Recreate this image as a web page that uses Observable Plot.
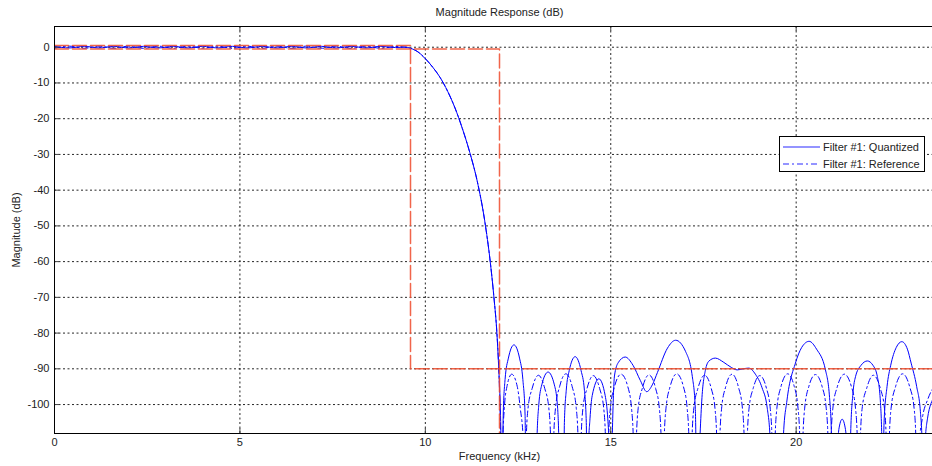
<!DOCTYPE html>
<html><head><meta charset="utf-8">
<script src="https://cdn.jsdelivr.net/npm/d3@7"></script>
<script src="https://cdn.jsdelivr.net/npm/@observablehq/plot@0.6"></script>
<style>
html,body{margin:0;padding:0;background:#fff;overflow:hidden}
#wrap{position:relative;width:950px;height:466px;overflow:hidden}
#chart svg{max-width:none !important}
#legend{position:absolute;left:779px;top:136px;width:144px;height:34px;border:1px solid #000;background:#fff;font:11px "Liberation Sans",Arial,sans-serif;color:#222}
.row{position:absolute;left:0;display:flex;align-items:center;height:16px;white-space:nowrap}
.row svg{margin-left:3px;margin-right:3px}
</style></head><body>
<div id="wrap"><div id="chart"></div>
<div id="legend">
 <div class="row" style="top:2px"><svg width="37" height="16"><line x1="0" x2="37" y1="8" y2="8" stroke="#2a2aff" stroke-width="1.2"/></svg>Filter #1: Quantized</div>
 <div class="row" style="top:19px"><svg width="37" height="16"><line x1="0" x2="37" y1="8" y2="8" stroke="#2a2aff" stroke-width="1.2" stroke-dasharray="6,3,2,3"/></svg>Filter #1: Reference</div>
</div></div>
<script>
// ---- ticks
const xTicks = [0, 5, 10, 15, 20];
const yTicks = [0, -10, -20, -30, -40, -50, -60, -70, -80, -90, -100];
const xDomain = [0, 24];
const yDomain = [-108.1, 5.8];

// ---- mask (frequency kHz, dB)
const maskUpper = [[0, 0.5], [9.6, 0.5], [9.6, -90], [24, -90]];
const maskLower = [[0, -0.5], [12, -0.5], [12, -200]];

// ---- passband ripple
const quantizedPass = [[0,0.25],[0.4,-0.2],[0.8,0.25],[1.2,-0.2],[1.6,0.25],[2.0,-0.2],[2.4,0.25],[2.8,-0.2],[3.2,0.25],[3.6,-0.2],[4.0,0.25],[4.4,-0.2],[4.8,0.25],[5.2,-0.2],[5.6,0.25],[6.0,-0.2],[6.4,0.25],[6.8,-0.2],[7.2,0.25],[7.6,-0.2],[8.0,0.25],[8.4,-0.2],[8.8,0.25],[9.2,-0.1],[9.45,0.05]];
const referencePass = [[0,-0.3],[0.4,0.3],[0.8,-0.3],[1.2,0.3],[1.6,-0.3],[2.0,0.3],[2.4,-0.3],[2.8,0.3],[3.2,-0.3],[3.6,0.3],[4.0,-0.3],[4.4,0.3],[4.8,-0.3],[5.2,0.3],[5.6,-0.3],[6.0,0.3],[6.4,-0.3],[6.8,0.3],[7.2,-0.3],[7.6,0.3],[8.0,-0.3],[8.4,0.3],[8.8,-0.3],[9.2,0.2],[9.45,0.0]];

// ---- transition band
const transition = [[9.6,-0.3],[9.8,-1.3],[10.0,-3.2],[10.2,-5.6],[10.4,-8.5],[10.6,-12.3],[10.8,-17],[11.0,-22.8],[11.2,-29.5],[11.4,-37.5],[11.6,-48.5],[11.75,-60],[11.85,-70],[11.93,-80],[11.98,-90]];

// ---- stopband, quantized filter
const quantizedStop = [[12.02,-100],[12.05,-115],[12.07,-130],
 [12.1,-103],[12.15,-93],[12.24,-87],[12.39,-83.3],[12.54,-87],[12.63,-93],[12.69,-103],[12.72,-130],
 [12.85,-118],[12.98,-130],
 [13.01,-110],[13.06,-100],[13.14,-94.5],[13.31,-90.9],[13.48,-94.5],[13.56,-100],[13.6,-110],[13.63,-130],
 [13.68,-120],[13.72,-130],
 [13.75,-105],[13.8,-96],[13.88,-90.5],[14.04,-86.6],[14.2,-90.5],[14.29,-96],[14.34,-105],[14.37,-130],
 [14.4,-112],[14.44,-104],[14.5,-97.5],[14.68,-92.8],[14.85,-97.5],[14.92,-104],[14.96,-112],[15.0,-130],
 [15.05,-105],[15.1,-92],[15.2,-88.3],[15.39,-86.7],[15.6,-89],[15.8,-93.3],[15.97,-96.4],[16.12,-94.5],[16.26,-91],[16.53,-84.2],[16.75,-82],[17.02,-85.2],[17.2,-92.2],[17.28,-101],[17.33,-130],
 [17.41,-108],[17.46,-98],[17.55,-90.5],[17.65,-87.8],[17.82,-87],[18.05,-88.2],[18.25,-89.6],[18.41,-90.3],[18.57,-90.0],[18.72,-89.8],[18.9,-91.5],[19.08,-95.3],[19.22,-101],[19.3,-110],[19.35,-130],
 [19.48,-120],[19.62,-130],
 [19.66,-108],[19.75,-99],[19.98,-88.4],[20.15,-84],[20.35,-82.3],[20.55,-84.5],[20.79,-90.3],[20.9,-98],[20.95,-108],[20.98,-130],
 [21.08,-118],[21.15,-107],[21.24,-104.1],[21.33,-107],[21.4,-118],[21.44,-130],
 [21.47,-108],[21.53,-97],[21.6,-92.2],[21.75,-89],[21.92,-87.8],[22.07,-89],[22.19,-92.2],[22.27,-99],[22.31,-110],[22.33,-130],
 [22.37,-105],[22.45,-95],[22.55,-89],[22.7,-84],[22.85,-82.4],[23.0,-84.5],[23.1,-88.4],[23.25,-95],[23.35,-102],[23.4,-112],[23.42,-130],
 [23.47,-112],[23.54,-104],[23.73,-97.3],[23.9,-92.5],[24,-91]];

// ---- stopband, reference filter
const referenceStop = [[12.02,-104],[12.06,-130],
 [12.09,-110],[12.13,-101],[12.2,-95],[12.33,-91.5],[12.48,-95],[12.56,-101],[12.64,-110],[12.68,-130],
 [12.72,-110],[12.77,-101],[12.88,-95.5],[13.05,-91.8],[13.22,-95.5],[13.33,-101],[13.38,-110],[13.42,-130],
 [13.46,-110],[13.51,-101],[13.62,-95],[13.79,-91.4],[13.96,-95],[14.07,-101],[14.12,-110],[14.16,-130],
 [14.2,-110],[14.25,-101],[14.36,-95.5],[14.53,-91.9],[14.7,-95.5],[14.81,-101],[14.86,-110],[14.9,-130],
 [14.94,-110],[14.99,-101],[15.1,-95],[15.28,-91.5],[15.46,-95],[15.56,-101],[15.61,-110],[15.65,-130],
 [15.69,-110],[15.74,-101],[15.85,-95.5],[16.03,-91.7],[16.21,-95.5],[16.31,-101],[16.36,-110],[16.4,-130],
 [16.44,-110],[16.49,-101],[16.6,-95],[16.78,-91.4],[16.96,-95],[17.06,-101],[17.11,-110],[17.15,-130],
 [17.19,-110],[17.24,-101],[17.35,-95.5],[17.53,-91.8],[17.71,-95.5],[17.81,-101],[17.86,-110],[17.9,-130],
 [17.94,-110],[17.99,-101],[18.1,-95],[18.27,-91.5],[18.44,-95],[18.55,-101],[18.6,-110],[18.64,-130],
 [18.68,-110],[18.73,-101],[18.84,-95.5],[19.02,-91.9],[19.2,-95.5],[19.3,-101],[19.35,-110],[19.39,-130],
 [19.43,-110],[19.48,-101],[19.59,-95],[19.77,-91.4],[19.95,-95],[20.05,-101],[20.1,-110],[20.14,-130],
 [20.18,-110],[20.23,-101],[20.34,-95],[20.52,-91.6],[20.7,-95],[20.81,-101],[20.86,-110],[20.9,-130],
 [20.94,-110],[20.99,-101],[21.11,-95],[21.3,-91.5],[21.49,-95],[21.6,-101],[21.65,-110],[21.69,-130],
 [21.73,-110],[21.78,-101],[21.9,-95.5],[22.08,-91.8],[22.27,-95.5],[22.38,-101],[22.43,-110],[22.47,-130],
 [22.51,-110],[22.56,-101],[22.68,-95],[22.87,-91.4],[23.06,-95],[23.18,-101],[23.23,-110],[23.27,-130],
 [23.31,-112],[23.4,-104],[23.55,-98.5],[23.75,-94.5],[24,-92]];

const quantized = [...quantizedPass, ...transition, ...quantizedStop];
const reference = [...referencePass, ...transition, ...referenceStop];

const fx = d => d[0], fy = d => d[1];
const grid = {stroke: "#000", strokeOpacity: 0.85, strokeDasharray: "2,2.5", strokeWidth: 1};
const maskStyle = {x: fx, y: fy, stroke: "#ee4a2a", strokeOpacity: 0.85, strokeWidth: 1.5, strokeDasharray: "14,4", clip: true};

const chart = Plot.plot({
  width: 950, height: 466,
  marginLeft: 54, marginRight: 6, marginTop: 26, marginBottom: 33,
  style: {fontFamily: "'Liberation Sans', Arial, sans-serif", fontSize: "11px", background: "#fff", color: "#222"},
  x: {domain: xDomain},
  y: {domain: yDomain},
  marks: [
    Plot.gridX(xTicks, grid),
    Plot.gridY(yTicks, grid),
    Plot.line(reference, {x: fx, y: fy, stroke: "#0000ff", strokeWidth: 1, strokeDasharray: "6,3,2,3", curve: "monotone-x", clip: true}),
    Plot.line(quantized, {x: fx, y: fy, stroke: "#0000ff", strokeWidth: 1, curve: "monotone-x", clip: true}),
    Plot.line(maskUpper, maskStyle),
    Plot.line(maskLower, maskStyle),
    Plot.ruleY(yTicks, {x1: xDomain[0], x2: 0.14, stroke: "#444"}),
    Plot.ruleX(xTicks, {y1: yDomain[0], y2: yDomain[0] + 1.4, stroke: "#444"}),
    Plot.ruleX(xTicks, {y1: yDomain[1] - 1.4, y2: yDomain[1], stroke: "#444"}),
    Plot.frame({stroke: "#000", strokeWidth: 1}),
    Plot.axisX(xTicks, {tickSize: 0, tickPadding: 5, tickFormat: d => `${d}`, label: "Frequency (kHz)", labelAnchor: "center", labelArrow: "none", labelOffset: 26}),
    Plot.axisY(yTicks, {tickSize: 0, tickPadding: 5, tickFormat: d => `${d}`, label: "Magnitude (dB)", labelAnchor: "center", labelArrow: "none", labelOffset: 42}),
    Plot.text(["Magnitude Response (dB)"], {text: d => d, frameAnchor: "top", lineAnchor: "middle", dy: -14, fontSize: 11, fill: "#222"})
  ]
});
chart.style.maxWidth = "none";
document.getElementById("chart").appendChild(chart);
</script></body></html>
